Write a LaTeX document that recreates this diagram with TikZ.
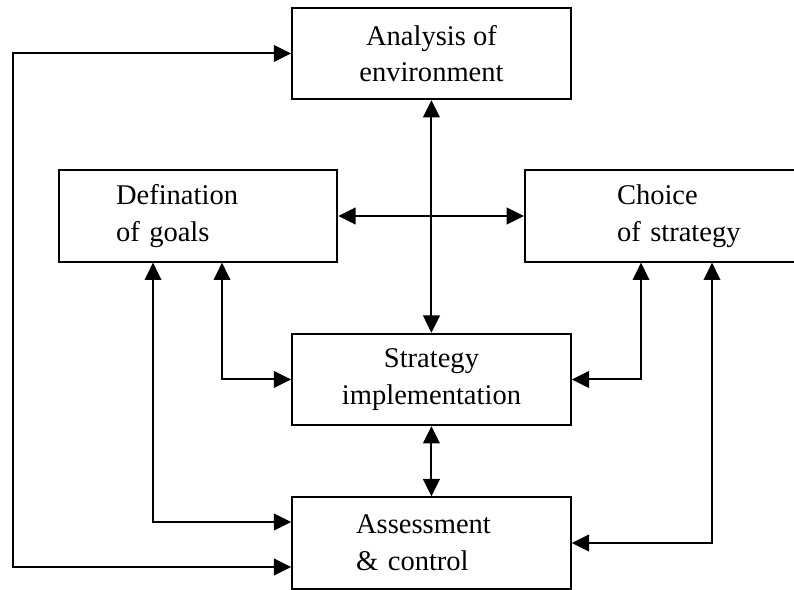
\documentclass[tikz,border=0pt]{standalone}
\usepackage{fontspec}
\setmainfont{Liberation Serif}
\usetikzlibrary{arrows.meta}
\begin{document}
\begin{tikzpicture}[>={Triangle[length=13pt,width=12.5pt]}, line width=1.5pt]
        \useasboundingbox (0,0) rectangle (595.5pt, 442.5pt);
        \tikzstyle{every node}=[draw, rectangle, minimum width=209pt, minimum height=68.5pt,
          font=\fontsize{21.4pt}{27.5pt}\selectfont, align=center]
        \path (323.6pt, 402.4pt) node (env) {Analysis of\\environment};
        \path (148.5pt, 280.5pt) node[text width=123pt, align=left] (goals) {Defination\\of goals};
        \path (521.25pt, 280.5pt) node[minimum width=255pt, text width=117pt, align=left] (choice) {Choice\\of strategy};
        \path (323.6pt, 157.9pt) node (impl) {Strategy\\implementation};
        \path (323.6pt, 35.25pt) node[text width=113pt, align=left] (assess) {Assessment\\\& control};
        \coordinate (loop) at (9.75pt, 200pt);

        \draw [<->]
          (env.south) -- (impl.north);
        \draw [<->]
          (goals.east) -- (choice.west);
        \draw [<->]
          (impl.south) -- (assess.north);
        \draw [<->]
          ([xshift=18pt]goals.south) |- (impl.west);
        \draw [<->]
          ([xshift=-33.75pt]goals.south) |- ([yshift=15.75pt]assess.west);
        \draw [<->]
          ([xshift=87.75pt]choice.south west) |- (impl.east);
        \draw [<->]
          ([xshift=141pt]choice.south west) |- (assess.east);
        \draw [<->]
          ([yshift=-18pt]assess.west) -| (loop) |- (env.west);
      \end{tikzpicture}
\end{document}
